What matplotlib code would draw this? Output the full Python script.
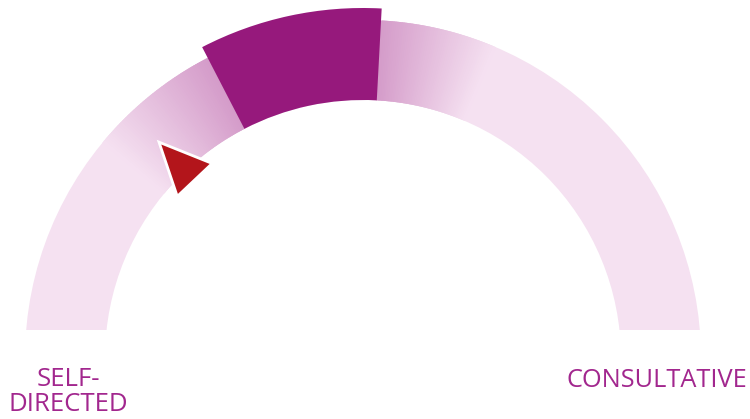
import numpy as np
import matplotlib
matplotlib.use("Agg")
import matplotlib.pyplot as plt
from matplotlib.patches import Wedge, Polygon, Rectangle
from matplotlib.colors import to_rgb

# ---- data ----
scale_min, scale_max = 0, 100
band_range = [34.8, 51.7]        # highlighted range on the gauge
pointer_value = 25.9             # red marker
end_labels = ["SELF-\nDIRECTED", "CONSULTATIVE"]

# ---- style ----
light = "#f5e1f1"
mid = "#d49bc9"
dark = "#96197c"
red = "#b3151b"
text_c = "#a2278e"

W, H = 750, 419
fig = plt.figure(figsize=(W / 100, H / 100), dpi=100)
ax = fig.add_axes([0, 0, 1, 1])
ax.set_xlim(0, W)
ax.set_ylim(0, H)
ax.axis("off")

cx, cy = 363, H - 358
r_out, r_in, r_band = 338, 258, 350
cut_y = H - 330


def ang(v):
    return 180 - (v - scale_min) / (scale_max - scale_min) * 180


clip = Rectangle((0, cut_y), W, H, transform=ax.transData)

# base ring
base = Wedge((cx, cy), r_out, 0, 180, width=r_out - r_in, facecolor=light,
             edgecolor="none")
ax.add_patch(base)
base.set_clip_path(clip)

# gradient halo around band
def grad(a0, a1, n=60):
    c0, c1 = np.array(to_rgb(mid)), np.array(to_rgb(light))
    edges = np.linspace(a0, a1, n + 1)
    for i in range(n):
        t = (i + 0.5) / n
        col = c0 * (1 - t) + c1 * t
        lo, hi = sorted([edges[i], edges[i + 1]])
        w = Wedge((cx, cy), r_out, lo - 0.15, hi + 0.15, width=r_out - r_in,
                  facecolor=col, edgecolor="none")
        ax.add_patch(w)

a_lo, a_hi = ang(band_range[1]), ang(band_range[0])
grad(a_hi, a_hi + 23)
grad(a_lo, a_lo - 20)

# highlighted band
ax.add_patch(Wedge((cx, cy), r_band, a_lo, a_hi, width=r_band - r_in,
                   facecolor=dark, edgecolor="none"))

# pointer
pa = np.deg2rad(ang(pointer_value))
u = np.array([np.cos(pa), np.sin(pa)])
p = np.array([-np.sin(pa), np.cos(pa)])
c = np.array([cx, cy])
tip = c + 297 * u
b1 = c + 245 * u + 24 * p
b2 = c + 245 * u - 24 * p
ax.add_patch(Polygon([tip, b1, b2], closed=True, facecolor=red,
                     edgecolor="white", linewidth=2, joinstyle="miter"))

# labels
ax.text(68, H - 392, end_labels[0], ha="center", va="center", color=text_c,
        fontsize=18.5, family="Open Sans", linespacing=0.98)
ax.text(747, H - 380, end_labels[1], ha="right", va="center", color=text_c,
        fontsize=18.3, family="Open Sans")

fig.savefig("out.png", dpi=100, facecolor="white")
